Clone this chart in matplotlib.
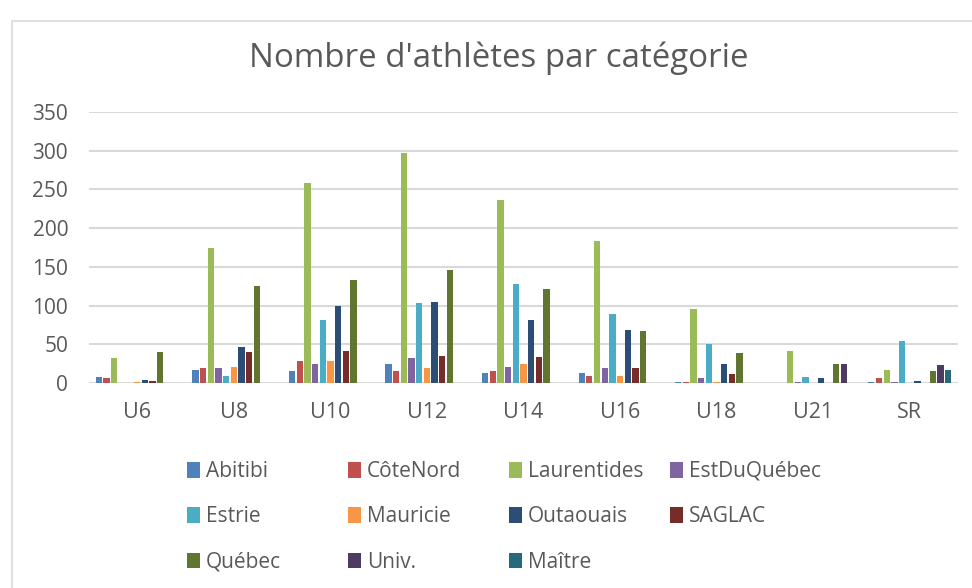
import numpy as np
import matplotlib.pyplot as plt
from matplotlib.patches import Rectangle

plt.rcParams['font.family'] = ['Open Sans', 'DejaVu Sans']

categories = ['U6', 'U8', 'U10', 'U12', 'U14', 'U16', 'U18', 'U21', 'SR']

abitibi = [8, 17, 16, 24, 13, 13, 1, 0, 1]
cotenord = [6, 19, 28, 16, 15, 9, 1, 0, 6]
laurentides = [32, 175, 258, 297, 236, 183, 96, 41, 17]
estduquebec = [0, 19, 25, 32, 21, 19, 7, 1, 1]
estrie = [0, 9, 82, 103, 128, 89, 50, 8, 54]
mauricie = [1, 21, 29, 20, 25, 9, 1, 0, 0]
outaouais = [4, 46, 100, 104, 82, 68, 25, 6, 2]
saglac = [3, 40, 41, 35, 33, 20, 11, 0, 0]
quebec = [40, 125, 133, 146, 121, 67, 39, 24, 16]
univ = [0, 0, 0, 0, 0, 0, 0, 24, 23]
maitre = [0, 0, 0, 0, 0, 0, 0, 0, 17]

series_names = ['Abitibi', 'CôteNord', 'Laurentides', 'EstDuQuébec', 'Estrie',
                'Mauricie', 'Outaouais', 'SAGLAC', 'Québec', 'Univ.', 'Maître']
series_values = [abitibi, cotenord, laurentides, estduquebec, estrie,
                 mauricie, outaouais, saglac, quebec, univ, maitre]
colors = ['#4F81BD', '#C0504D', '#9BBB59', '#8064A2', '#4BACC6', '#F79646',
          '#2C4D75', '#772C2A', '#5F7530', '#4D3B62', '#276A7C']

txt = '#595959'
grid_c = '#D9D9D9'

fig = plt.figure(figsize=(9.72, 5.88), dpi=100)
ax = fig.add_axes([89 / 972, 1 - 383 / 588, (958 - 89) / 972, (383 - 112) / 588])

x = np.arange(len(categories))
step = 0.0795
n = len(series_values)
handles = []
for i, (name, vals, c) in enumerate(zip(series_names, series_values, colors)):
    b = ax.bar(x + (i - (n - 1) / 2) * step, vals, width=step * 0.82,
               color=c, label=name, zorder=3)
    handles.append(b)

ax.set_xlim(-0.5, len(categories) - 0.5)
ax.set_ylim(0, 350)
ax.set_yticks(range(0, 351, 50))
ax.set_xticks(x)
ax.set_xticklabels(categories)
ax.yaxis.grid(True, color=grid_c, linewidth=1.5, zorder=0)
ax.set_axisbelow(True)
for s in ax.spines.values():
    s.set_visible(False)
ax.tick_params(axis='y', length=0, pad=15, labelsize=15, labelcolor=txt)
ax.tick_params(axis='x', length=0, pad=14, labelsize=15.5, labelcolor=txt)

fig.text(499 / 972, 1 - 58 / 588, "Nombre d'athlètes par catégorie",
         ha='center', va='center', fontsize=23.8, color=txt)

# chart frame (cropped at right and bottom)
fig.add_artist(Rectangle((12 / 972, -0.1), 2, 1 - 21 / 588 + 0.1,
                         transform=fig.transFigure, fill=False,
                         edgecolor=grid_c, linewidth=1.2))

# legend laid out in equal-width columns, like the original
for c in range(4):
    leg = fig.legend([handles[i] for i in range(c, n, 4)],
                     [series_names[i] for i in range(c, n, 4)],
                     loc='upper left', bbox_to_anchor=((187 + c * 161) / 972, 1 - 461 / 588),
                     frameon=False, fontsize=15, labelcolor=txt,
                     handlelength=0.62, handleheight=0.78, handletextpad=0.3,
                     labelspacing=1.17, borderpad=0, borderaxespad=0)

fig.savefig('out.png', dpi=100)
